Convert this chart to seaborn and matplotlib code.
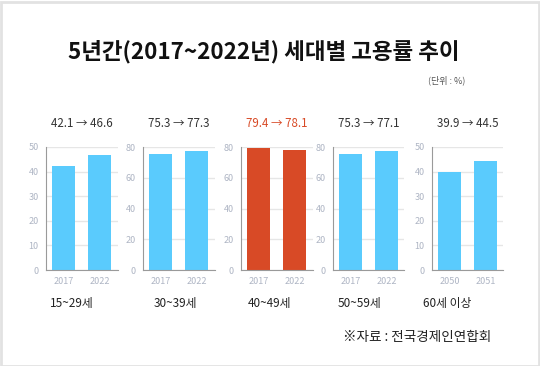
import matplotlib
matplotlib.use("Agg")
import matplotlib.pyplot as plt
import seaborn as sns
import pandas as pd
from matplotlib.patches import Rectangle

# ---- data ----
groups = ['15~29세', '30~39세', '40~49세', '50~59세', '60세 이상']
years = [['2017', '2022'], ['2017', '2022'], ['2017', '2022'], ['2017', '2022'], ['2050', '2051']]
v_start = [42.1, 75.3, 79.4, 75.3, 39.9]
v_end = [46.6, 77.3, 78.1, 77.1, 44.5]
y_max = [50, 80, 80, 80, 50]
y_step = [10, 20, 20, 20, 10]
highlight = [False, False, True, False, False]

title = '5년간(2017~2022년) 세대별 고용률 추이'
unit = '(단위 : %)'
source = '※자료 : 전국경제인연합회'

# ---- style ----
sns.set_theme(style='white')
plt.rcParams['font.family'] = ['Noto Sans CJK KR', 'DejaVu Sans']

W, H = 540, 366
fig = plt.figure(figsize=(W / 100, H / 100), dpi=100)
fig.patch.set_facecolor('white')

blue = '#5ACBFD'
red = '#D84A26'
tick_col = '#AEB5C4'
spine_col = '#9a9a9a'
grid_col = '#e6e6e6'

ax_left = [45.5, 142.5, 240.5, 332.5, 431.5]
ax_w = 72
ax_top, ax_bot = 147, 270
label_x = [72, 175, 270, 360, 447]

for i in range(5):
    ax = fig.add_axes([ax_left[i] / W, 1 - ax_bot / H, ax_w / W, (ax_bot - ax_top) / H])
    df = pd.DataFrame({'year': years[i], 'value': [v_start[i], v_end[i]]})
    col = red if highlight[i] else blue
    sns.barplot(data=df, x='year', y='value', ax=ax, color=col, width=0.66,
                saturation=1, edgecolor='none')
    ax.set_ylim(0, y_max[i])
    ax.set_yticks(range(0, y_max[i] + 1, y_step[i]))
    ax.set_xlabel('')
    ax.set_ylabel('')
    ax.yaxis.grid(True, color=grid_col, linewidth=1)
    ax.set_axisbelow(True)
    for s in ['top', 'right']:
        ax.spines[s].set_visible(False)
    for s in ['left', 'bottom']:
        ax.spines[s].set_color(spine_col)
        ax.spines[s].set_linewidth(0.8)
    ax.tick_params(axis='both', length=0, labelsize=6.5, colors=tick_col, pad=5)
    ax.set_facecolor('none')

    cx = (ax_left[i] + ax_w / 2) / W
    txt = f'{v_start[i]:.1f} → {v_end[i]:.1f}'
    fig.text(cx, 1 - 123 / H, txt, ha='center', va='center', fontsize=8.3,
             color=red if highlight[i] else '#333333')
    fig.text(label_x[i] / W, 1 - 303 / H, groups[i], ha='center', va='center',
             fontsize=8.5, color='#222222')

fig.text(264 / W, 1 - 52 / H, title, ha='center', va='center', fontsize=16.2,
         fontweight='bold', color='#111111')
fig.text(447 / W, 1 - 80 / H, unit, ha='center', va='center', fontsize=6.5,
         color='#555555')
fig.text(417 / W, 1 - 337 / H, source, ha='center', va='center', fontsize=9.8,
         color='#222222')

fig.patches.append(Rectangle((0.5 / W, 0.5 / H), (W - 2) / W, (H - 2) / H,
                             transform=fig.transFigure, fill=False,
                             edgecolor='#e2e2e2', linewidth=2))

fig.savefig('out.png', dpi=100, facecolor='white')
